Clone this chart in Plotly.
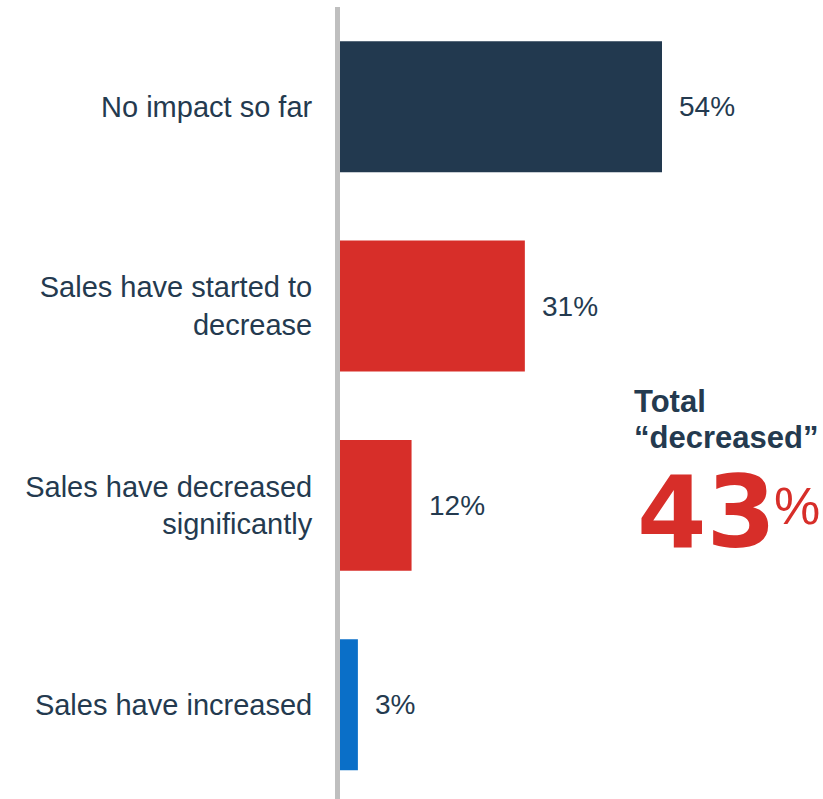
import plotly.graph_objects as go

# Survey responses: impact on sales
categories = [
    "No impact so far",
    "Sales have started to<br>decrease",
    "Sales have decreased<br>significantly",
    "Sales have increased",
]
shares = [54, 31, 12, 3]
bar_colors = ["#22394F", "#D72E29", "#D72E29", "#0A6FC8"]

total_decreased = shares[1] + shares[2]

NAVY = "#243A4F"
RED = "#D72E29"
FONT = "Liberation Sans, Arial, sans-serif"
HEAVY = "DejaVu Sans, Liberation Sans, sans-serif"

fig = go.Figure()
fig.add_trace(go.Bar(
    x=shares,
    y=categories,
    orientation="h",
    marker=dict(color=bar_colors, line=dict(width=0)),
    width=0.657,
    hoverinfo="skip",
))

# Percentage labels just right of each bar
for cat, val in zip(categories, shares):
    fig.add_annotation(
        x=val, y=cat, xref="x", yref="y",
        text=f"{val}%", showarrow=False,
        xanchor="left", yanchor="middle", xshift=15,
        font=dict(family=FONT, size=28, color=NAVY),
    )

# Callout for the combined "decreased" share
W, H = 823, 799
L, T = 340, 7
PW, PH = W - L, H - T


def px(x):
    return (x - L) / PW


def py(y):
    return (H - y) / PH


fig.add_annotation(
    x=px(632), y=py(401), xref="paper", yref="paper",
    text="<b>Total</b>", showarrow=False, xanchor="left", yanchor="middle",
    font=dict(family=FONT, size=31, color=NAVY),
)
fig.add_annotation(
    x=px(632), y=py(437), xref="paper", yref="paper",
    text="<b>\u201cdecreased\u201d</b>", showarrow=False, xanchor="left", yanchor="middle",
    font=dict(family=FONT, size=31, color=NAVY),
)
fig.add_annotation(
    x=px(635), y=py(512), xref="paper", yref="paper",
    text=f"<b>{total_decreased}</b>", showarrow=False, xanchor="left", yanchor="middle",
    font=dict(family=HEAVY, size=100, color=RED),
)
fig.add_annotation(
    x=px(772), y=py(506), xref="paper", yref="paper",
    text="%", showarrow=False, xanchor="left", yanchor="middle",
    font=dict(family=FONT, size=52, color=RED),
)

fig.update_layout(
    width=W, height=H,
    margin=dict(l=L, r=0, t=T, b=0, pad=0),
    paper_bgcolor="white", plot_bgcolor="white",
    showlegend=False,
    font=dict(family=FONT, size=28, color=NAVY),
    xaxis=dict(range=[0, 81], visible=False, fixedrange=True),
    yaxis=dict(
        range=[3.473, -0.5],
        showline=True, linecolor="#BFBFBF", linewidth=5,
        showgrid=False, zeroline=False,
        ticks="", ticklabelstandoff=17,
        tickfont=dict(family=FONT, size=29, color=NAVY),
        fixedrange=True,
    ),
)

fig.write_html("out.html")
